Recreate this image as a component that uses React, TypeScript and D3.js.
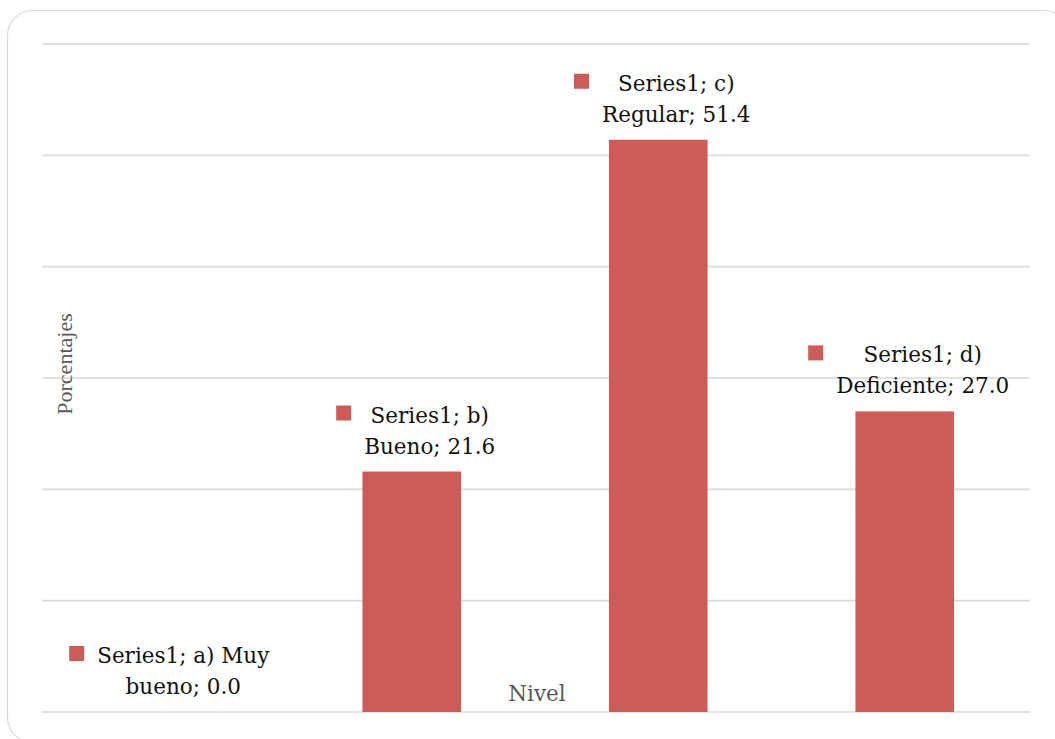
import React, { useEffect, useRef } from "react";
import * as d3 from "d3";

const categories = ["a) Muy bueno", "b) Bueno", "c) Regular", "d) Deficiente"];
const values = [0.0, 21.6, 51.4, 27.0];
const labelLines = [
  ["Series1; a) Muy", "bueno; 0.0"],
  ["Series1; b)", "Bueno; 21.6"],
  ["Series1; c)", "Regular; 51.4"],
  ["Series1; d)", "Deficiente; 27.0"],
];
const yTicks = [0, 10, 20, 30, 40, 50, 60];
const xTitle = "Nivel";
const yTitle = "Porcentajes";

const W = 1055;
const H = 739;
const FONT = "'DejaVu Serif', serif";
const BAR = "#cd5b57";
const GRID = "#d9d9d9";

export default function App() {
  const ref = useRef<SVGSVGElement>(null);

  useEffect(() => {
    const svg = d3.select(ref.current);
    svg.selectAll("*").remove();

    const left = 42, right = 1028, top = 44, bottom = 712;
    const x = d3.scaleBand<string>().domain(categories).range([left, right]).paddingInner(0.6).paddingOuter(0.3);
    const y = d3.scaleLinear().domain([0, 60]).range([bottom, top]);

    svg.append("rect")
      .attr("x", 7.5).attr("y", 10.5).attr("width", 1062).attr("height", 732)
      .attr("rx", 25).attr("fill", "#fff").attr("stroke", GRID).attr("stroke-width", 1.2);

    svg.append("g").selectAll("line").data(yTicks).join("line")
      .attr("x1", left).attr("x2", right + 2)
      .attr("y1", (d) => y(d)).attr("y2", (d) => y(d))
      .attr("stroke", GRID).attr("stroke-width", 1.6);

    svg.append("text")
      .attr("transform", `translate(72,364) rotate(-90)`)
      .attr("text-anchor", "middle")
      .attr("font-family", "'Liberation Serif', serif").attr("font-size", 22).attr("fill", "#595959")
      .text(yTitle);

    svg.append("g").selectAll("rect").data(values).join("rect")
      .attr("x", (_, i) => x(categories[i])!)
      .attr("width", x.bandwidth())
      .attr("y", (d) => y(d))
      .attr("height", (d) => bottom - y(d))
      .attr("fill", BAR);

    svg.append("text")
      .attr("x", (left + right) / 2 + 2).attr("y", 701)
      .attr("text-anchor", "middle")
      .attr("font-family", FONT).attr("font-size", 21.5).attr("fill", "#595959")
      .text(xTitle);

    values.forEach((v, i) => {
      const cx = x(categories[i])! + x.bandwidth() / 2;
      const tc = cx + 18;
      const b2 = y(v) - 18;
      const b1 = b2 - 31;
      const g = svg.append("g");
      const texts = labelLines[i].map((line, j) =>
        g.append("text")
          .attr("x", tc).attr("y", j === 0 ? b1 : b2)
          .attr("text-anchor", "middle")
          .attr("font-family", FONT).attr("font-size", 21.5).attr("fill", "#111")
          .text(line)
      );
      const wMax = d3.max(texts, (t) => (t.node() as SVGTextElement).getComputedTextLength()) || 0;
      g.append("rect")
        .attr("x", tc - wMax / 2 - 28).attr("y", b1 - 17)
        .attr("width", 15).attr("height", 15).attr("fill", BAR);
    });
  }, []);

  return (
    <svg
      ref={ref}
      width={W}
      height={H}
      style={{ position: "absolute", left: 0, top: 0, display: "block" }}
    />
  );
}
